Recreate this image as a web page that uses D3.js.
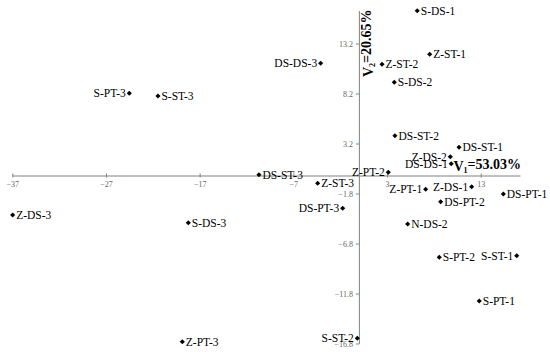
<!DOCTYPE html>
<html>
<head>
<meta charset="utf-8">
<script src="https://cdn.jsdelivr.net/npm/d3@7"></script>
<style>
    body { margin: 0; background: #fff; }
    svg text { font-family: "Liberation Serif", "Times New Roman", serif; }
</style>
</head>
<body>
<div id="my_dataviz"></div>
<script>
// Punktnamen und Koordinaten (V1, V2)
const names = ["S-DS-1", "Z-ST-1", "Z-ST-2", "DS-DS-3", "S-DS-2", "S-PT-3", "S-ST-3", "DS-ST-2", "DS-ST-1",
    "Z-DS-2", "DS-DS-1", "Z-PT-2", "DS-ST-3", "Z-ST-3", "Z-PT-1", "Z-DS-1", "DS-PT-1", "DS-PT-2",
    "DS-PT-3", "N-DS-2", "S-PT-2", "S-ST-1", "S-PT-1", "S-ST-2", "Z-DS-3", "S-DS-3", "Z-PT-3"];
const v1 = [6.23, 7.56, 2.47, -4.08, 3.78, -24.51, -21.45, 3.85, 10.69,
    9.76, 9.86, 3.14, -10.67, -4.40, 7.13, 12.04, 15.42, 8.73,
    -1.73, 5.21, 8.58, 16.85, 12.85, -0.17, -36.96, -18.21, -18.85];
const v2 = [16.48, 12.12, 11.12, 11.22, 9.32, 8.22, 7.95, 3.98, 2.82,
    1.88, 1.18, 0.32, 0.08, -0.78, -1.38, -1.12, -1.85, -2.62,
    -3.28, -4.85, -8.18, -8.02, -12.55, -16.28, -3.95, -4.72, -16.62];

const xTicks = [-37, -27, -17, -7, 3, 13];
const yTicks = [13.2, 8.2, 3.2, -1.8, -6.8, -11.8, -16.8];

// Beschriftung links vom Punkt
const leftLabels = ["S-PT-3", "DS-DS-3", "Z-PT-2", "Z-DS-2", "DS-DS-1", "Z-PT-1", "Z-DS-1", "DS-PT-3", "S-ST-1", "S-ST-2"];

const width = 550, height = 352;

const svg = d3.select("#my_dataviz")
    .append("svg")
    .attr("width", width)
    .attr("height", height);

const xx = d3.scaleLinear()
    .domain([-37, 17.2])
    .range([12.3, 520]);

const yy = d3.scaleLinear()
    .domain([-16.8, 16.5])
    .range([343.5, 10.5]);

// x-Achse durch den Nullpunkt
const xAxis = svg.append("g")
    .attr("transform", `translate(0, ${yy(0)})`)
    .call(d3.axisBottom(xx).tickValues(xTicks).tickSize(2).tickSizeOuter(0));
xAxis.attr("font-family", null);
xAxis.select(".domain").attr("stroke", "#808080");
xAxis.selectAll(".tick line").attr("stroke", "#808080").attr("y1", -2);
xAxis.selectAll(".tick text")
    .attr("y", 6)
    .attr("fill", "#666")
    .style("font-size", "8px")
    .text(d => d < 0 ? "\u2212" + Math.abs(d) : d);

// y-Achse durch den Nullpunkt
const yAxis = svg.append("g")
    .attr("transform", `translate(${xx(0)}, 0)`)
    .call(d3.axisLeft(yy).tickValues(yTicks).tickSize(3).tickSizeOuter(0));
yAxis.attr("font-family", null);
yAxis.select(".domain").attr("stroke", "#808080");
yAxis.selectAll(".tick line").attr("stroke", "#808080");
yAxis.selectAll(".tick text")
    .attr("x", -6)
    .attr("fill", "#666")
    .style("font-size", "8px")
    .text(d => d < 0 ? "\u2212" + Math.abs(d).toFixed(1) : d.toFixed(1));

const points = names.map((n, i) => ({name: n, x: v1[i], y: v2[i]}));

// Rauten
svg.append("g")
    .selectAll("path")
    .data(points)
    .join("path")
    .attr("d", d3.symbol(d3.symbolSquare, 13))
    .attr("transform", d => `translate(${xx(d.x)}, ${yy(d.y)}) rotate(45)`)
    .attr("fill", "#000");

// Punktbeschriftungen
svg.append("g")
    .selectAll("text")
    .data(points)
    .join("text")
    .attr("x", d => leftLabels.includes(d.name) ? xx(d.x) - 3.5 : xx(d.x) + 3.5)
    .attr("y", d => yy(d.y))
    .attr("dy", "0.35em")
    .style("text-anchor", d => leftLabels.includes(d.name) ? "end" : "start")
    .style("font-size", "11.5px")
    .style("fill", "#000")
    .text(d => d.name);

// Achsentitel
const t1 = svg.append("text")
    .attr("x", 521).attr("y", yy(0) - 5)
    .style("text-anchor", "end")
    .style("font-size", "14px")
    .style("font-weight", "bold")
    .text("V");
t1.append("tspan").text("1").style("font-size", "8px").attr("dy", "0.3em");
t1.append("tspan").text("=53.03%").attr("dy", "-0.3em");

const t2 = svg.append("text")
    .attr("transform", `translate(${xx(0) + 14}, 77) rotate(-90)`)
    .style("text-anchor", "start")
    .style("font-size", "14px")
    .style("font-weight", "bold")
    .text("V");
t2.append("tspan").text("2").style("font-size", "8px").attr("dy", "0.3em");
t2.append("tspan").text("=20.65%").attr("dy", "-0.3em");
</script>
</body>
</html>
